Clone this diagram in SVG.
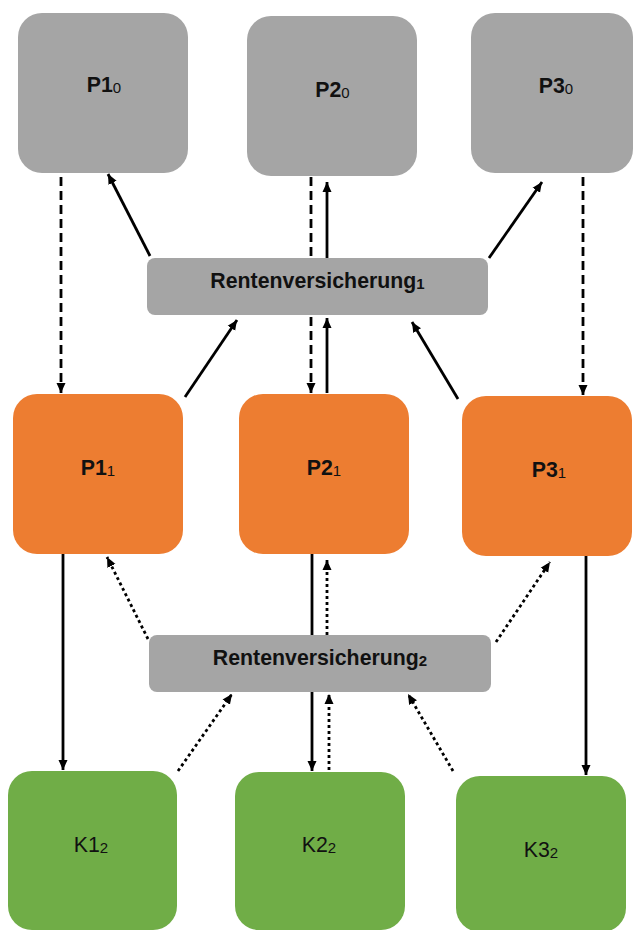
<svg xmlns="http://www.w3.org/2000/svg" width="634" height="930" viewBox="0 0 634 930">
<style>
.gray{fill:#a5a5a5}
.orange{fill:#ed7d31}
.green{fill:#70ad47}
.lbl{font-family:"Liberation Sans",Arial,sans-serif;font-size:21.3px;font-weight:bold;fill:#111;text-anchor:middle}
.klbl{font-family:"Liberation Sans",Arial,sans-serif;font-size:21.3px;font-weight:normal;fill:#111;text-anchor:middle}
.sub{font-size:15px;font-weight:normal}
.subb{font-size:15px;font-weight:bold}
.solid{stroke:#000;stroke-width:2.8;fill:none;marker-end:url(#ah)}
.dash{stroke:#000;stroke-width:2.8;fill:none;stroke-dasharray:9 5;marker-end:url(#ah)}
.dot{stroke:#000;stroke-width:2.8;fill:none;stroke-dasharray:3 3;marker-end:url(#ah)}
</style>
<defs>
<marker id="ah" markerUnits="userSpaceOnUse" markerWidth="10" markerHeight="10" refX="10" refY="5" orient="auto">
<path d="M0,0.5 L10,5 L0,9.5 z" fill="#000"/>
</marker>
</defs>
<rect width="634" height="930" fill="#fff"/>
<g id="connectors">
<line class="dash" x1="61" y1="177" x2="61" y2="393"/>
<line class="dash" x1="311" y1="177" x2="311" y2="393"/>
<line class="dash" x1="583" y1="177" x2="583" y2="395"/>
<line class="solid" x1="150" y1="256" x2="108" y2="174"/>
<line class="solid" x1="327" y1="258" x2="327" y2="182"/>
<line class="solid" x1="489" y1="258" x2="542" y2="182"/>
<line class="solid" x1="185" y1="397" x2="237" y2="320"/>
<line class="solid" x1="327" y1="393" x2="327" y2="318"/>
<line class="solid" x1="458" y1="399" x2="412" y2="322"/>
<line class="solid" x1="63" y1="554" x2="63" y2="770"/>
<line class="solid" x1="312" y1="554" x2="312" y2="771"/>
<line class="solid" x1="586" y1="556" x2="586" y2="775"/>
<line class="dot" x1="148" y1="639" x2="107" y2="557"/>
<line class="dot" x1="327" y1="635" x2="327" y2="560"/>
<line class="dot" x1="496" y1="642" x2="550" y2="562"/>
<line class="dot" x1="178" y1="771" x2="232" y2="694"/>
<line class="dot" x1="329" y1="770" x2="329" y2="694"/>
<line class="dot" x1="453" y1="771" x2="408" y2="694"/>
</g>
<g id="P1_0"><rect class="gray" x="18" y="13" width="170" height="160" rx="24"/><text class="lbl" x="104" y="92">P1<tspan class="sub" dy="1">0</tspan></text></g>
<g id="P2_0"><rect class="gray" x="247" y="16" width="170" height="160" rx="24"/><text class="lbl" x="332.5" y="97">P2<tspan class="sub" dy="1">0</tspan></text></g>
<g id="P3_0"><rect class="gray" x="471" y="13" width="162" height="160" rx="24"/><text class="lbl" x="556" y="93">P3<tspan class="sub" dy="1">0</tspan></text></g>
<g id="R1"><rect class="gray" x="147" y="258" width="341" height="57" rx="8"/><text class="lbl" x="317.5" y="288">Rentenversicherung<tspan class="subb" dy="1">1</tspan></text></g>
<g id="P1_1"><rect class="orange" x="13" y="394" width="170" height="160" rx="24"/><text class="lbl" x="98" y="475">P1<tspan class="sub" dy="1">1</tspan></text></g>
<g id="P2_1"><rect class="orange" x="239" y="394" width="170" height="160" rx="24"/><text class="lbl" x="324" y="475">P2<tspan class="sub" dy="1">1</tspan></text></g>
<g id="P3_1"><rect class="orange" x="462" y="396" width="170" height="160" rx="24"/><text class="lbl" x="549" y="477">P3<tspan class="sub" dy="1">1</tspan></text></g>
<g id="R2"><rect class="gray" x="149" y="635" width="342" height="57" rx="8"/><text class="lbl" x="320" y="665">Rentenversicherung<tspan class="subb" dy="1">2</tspan></text></g>
<g id="K1_2"><rect class="green" x="8" y="771" width="169" height="159" rx="24"/><text class="klbl" x="91" y="852">K1<tspan class="sub" dy="1">2</tspan></text></g>
<g id="K2_2"><rect class="green" x="235" y="772" width="170" height="158" rx="24"/><text class="klbl" x="319" y="852">K2<tspan class="sub" dy="1">2</tspan></text></g>
<g id="K3_2"><rect class="green" x="456" y="776" width="170" height="156" rx="24"/><text class="klbl" x="541" y="857">K3<tspan class="sub" dy="1">2</tspan></text></g>
</svg>
